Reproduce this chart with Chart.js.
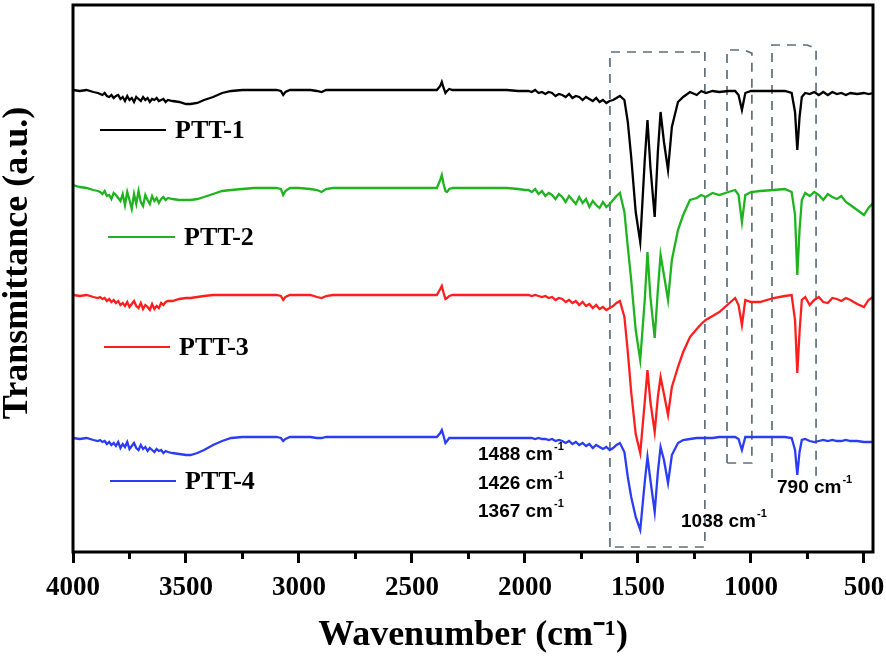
<!DOCTYPE html>
<html>
<head>
<meta charset="utf-8">
<title>FTIR spectra PTT-1 to PTT-4</title>
<script src="https://cdn.jsdelivr.net/npm/chart.js@4/dist/chart.umd.min.js"></script>
<style>
  html, body { margin: 0; padding: 0; background: #fff; }
</style>
</head>
<body>
<canvas id="ftir-chart" width="886" height="665"></canvas>
<script>
// wavenumber grid shared by all four spectra (cm-1)
var wavenumbers = [
  4000, 3970, 3940, 3910, 3890,
  3880, 3870, 3860, 3850, 3840, 3830, 3820, 3810, 3800, 3790, 3780, 3770, 3760, 3750, 3740, 3730,
  3720, 3710, 3700, 3690, 3680, 3670, 3660, 3650, 3640, 3630, 3620, 3610, 3600, 3590, 3580,
  3560, 3530, 3500, 3480, 3450, 3420, 3380, 3340, 3300,
  3250, 3200, 3150, 3100, 3080, 3070, 3060, 3040, 3000,
  2950, 2920, 2900, 2880, 2850, 2800, 2700, 2600, 2500,
  2420, 2390, 2375, 2368, 2360, 2352, 2345, 2335, 2320,
  2250, 2150, 2080, 2030, 2000,
  1985, 1970, 1955, 1940, 1925, 1910, 1895, 1880, 1865, 1850, 1835, 1820, 1805, 1790,
  1775, 1760, 1745, 1730, 1715, 1700, 1685, 1670, 1655, 1640, 1625, 1610, 1595, 1580,
  1560, 1545, 1530, 1510, 1490, 1470, 1458, 1445, 1426, 1412,
  1400, 1385, 1367, 1350, 1323, 1300, 1270, 1240, 1220, 1200,
  1170, 1140, 1100, 1070, 1055, 1040, 1025, 1000, 960, 900,
  850, 820, 805, 795, 785, 775, 760, 740, 720, 700,
  680, 660, 640, 620, 600, 580, 560, 530, 500, 480, 460
];

// transmittance (a.u., curves stacked with offsets)
var ptt1 = [
  462, 461, 462, 460, 459,
  458, 457, 459, 456, 455, 457, 454, 456, 457, 453, 455, 451, 456, 452, 454, 450,
  455, 453, 451, 455, 452, 454, 450, 453, 452, 454, 451, 452, 453, 450, 452,
  451, 450, 448, 448, 449, 452, 455, 459, 461,
  462, 462, 462, 462, 461, 457, 460, 462, 462,
  462, 461, 460, 462, 462, 462, 462, 462, 462,
  462, 462, 466, 470, 464, 459, 461, 463, 462,
  462, 462, 462, 461, 461,
  461, 460, 462, 459, 460, 458, 460, 459, 456, 458, 457, 455, 458, 454,
  456, 455, 452, 455, 453, 451, 454, 450, 452, 449, 451, 452, 454, 456,
  452, 430, 395, 340, 310, 392, 432, 385, 335, 400,
  440, 410, 382, 425, 450, 455, 460, 457, 461, 459,
  461, 460, 461, 461, 457, 442, 459, 461, 461, 461,
  461, 459, 440, 402, 435, 455, 459, 458, 460, 457,
  460, 457, 460, 458, 459, 457, 459, 458, 459, 458, 459
];
var ptt2 = [
  367, 365, 364, 362, 361,
  360, 358, 361, 356, 357, 353, 359, 357, 354, 351, 358, 347, 360, 352, 343, 358,
  348, 361, 350, 346, 357, 352, 348, 356, 351, 354, 349, 353, 355, 352, 354,
  353, 352, 352, 352, 353, 355, 358, 361, 362,
  363, 364, 364, 364, 363, 357, 361, 364, 364,
  363, 362, 360, 363, 364, 364, 364, 364, 364,
  364, 364, 372, 377, 368, 361, 360, 363, 364,
  364, 364, 364, 363, 362,
  362, 360, 363, 358, 361, 356, 359, 357, 353, 358, 355, 350, 356, 352,
  348, 355, 349, 353, 345, 351, 347, 344, 350, 345, 348, 352, 356, 359,
  340, 305, 272, 222, 192, 252, 300, 255, 214, 262,
  297, 277, 252, 292, 322, 337, 352, 354, 357, 355,
  359, 357, 360, 362, 357, 330, 357, 360, 361, 362,
  363, 360, 337, 277, 322, 352, 359, 356, 360, 357,
  352, 358, 355, 353, 356, 350, 347, 342, 337, 344, 349
];
var ptt3 = [
  257, 256, 257, 255, 254,
  255, 253, 254, 251, 253, 250, 252, 249, 251, 247, 249, 246, 250, 245, 248, 251,
  246, 244, 249, 243, 247, 245, 242, 248, 243, 246, 244, 249, 247, 250, 251,
  251, 253, 254, 254, 255, 256, 257, 257, 257,
  257, 257, 257, 257, 256, 252, 255, 257, 257,
  257, 255, 254, 256, 257, 257, 257, 257, 257,
  257, 257, 263, 266, 259, 253, 254, 256, 257,
  257, 257, 257, 257, 257,
  257, 256, 257, 256, 255, 256, 254, 255, 252, 254, 253, 250, 252, 249,
  251, 247, 250, 246, 248, 244, 247, 243, 245, 242, 244, 246, 249, 251,
  235, 200, 160, 118, 99, 150, 182, 150, 120, 155,
  175, 158, 137, 165, 185, 200, 215, 223, 228, 232,
  236, 240, 248, 254, 247, 227, 252, 250, 250, 254,
  256, 257, 232, 179, 220, 252, 255, 247, 252, 255,
  250, 249, 254, 253, 251, 254, 252, 248, 245, 252, 255
];
var ptt4 = [
  114, 113, 114, 112, 111,
  112, 110, 111, 108, 110, 107, 109, 106, 110, 104, 108, 105, 110, 103, 106, 109,
  104, 102, 107, 103, 105, 101, 104, 102, 100, 103, 101, 102, 99, 101, 100,
  99, 98, 97, 97, 99, 102, 107, 111, 114,
  115, 115, 115, 115, 114, 111, 113, 115, 115,
  115, 114, 114, 115, 115, 115, 115, 115, 115,
  115, 115, 119, 122, 116, 109, 111, 114, 114,
  114, 114, 114, 114, 114,
  114, 114, 113, 114, 113, 113, 112, 113, 111, 112, 111, 109, 111, 108,
  110, 107, 109, 106, 108, 104, 107, 105, 103, 105, 102, 104, 107, 109,
  100, 75, 55, 35, 22, 70, 95, 72, 40, 80,
  105, 92, 69, 97, 109, 112, 113, 114, 114, 114,
  114, 115, 115, 115, 113, 102, 115, 115, 115, 115,
  115, 114, 102, 77, 100, 112, 113, 111, 110, 111,
  112, 111, 112, 111, 111, 112, 111, 111, 110, 110, 110
];

var seriesNames = ["PTT-1", "PTT-2", "PTT-3", "PTT-4"];
var seriesValues = [ptt1, ptt2, ptt3, ptt4];
var seriesColors = ["#000000", "#1fb41f", "#ff1e1e", "#2b3cf5"];

var tickValues = [4000, 3500, 3000, 2500, 2000, 1500, 1000, 500];
var minorTickValues = [3750, 3250, 2750, 2250, 1750, 1250, 750];
var peakLabels = ["1488", "1426", "1367", "1038", "790"];
var yTitle = "Transmittance (a.u.)";

var SERIF = "'Liberation Serif', 'Times New Roman', serif";
var SANS = "'Liberation Sans', Arial, sans-serif";
Chart.defaults.font.family = SERIF;
Chart.defaults.color = "#000";

// legend entries sit next to each trace
var legendSpots = [
  { x1: 100, x2: 166, y: 130 },
  { x1: 108, x2: 175, y: 237 },
  { x1: 104, x2: 170, y: 347 },
  { x1: 110, x2: 176, y: 481 }
];
// peak label spots
var peakSpots = [
  { x: 478, y: 455 }, { x: 478, y: 484 }, { x: 478, y: 512 },
  { x: 681, y: 522 }, { x: 777, y: 488 }
];
// dashed boxes around the bands (wavenumber span, y span in a.u.)
var boxes = [
  { from: 1624, to: 1204, top: 500, bottom: 5, closed: true, cut: 0 },
  { from: 1106, to: 996, top: 502, bottom: 89, closed: true, cut: 8 },
  { from: 907, to: 712, top: 507, bottom: 74, closed: false, cut: 9 }
];

function supText(ctx, x, y, base, sup, size) {
  ctx.font = "bold " + size + "px " + SANS;
  ctx.textBaseline = "middle";
  ctx.textAlign = "left";
  ctx.fillText(base, x, y);
  var w = ctx.measureText(base).width;
  ctx.font = "bold " + Math.round(size * 0.6) + "px " + SANS;
  ctx.fillText(sup, x + w + 1, y - size * 0.42);
}

var decorPlugin = {
  id: "decor",
  beforeDatasetsDraw: function (chart) {
    var ctx = chart.ctx, xs = chart.scales.x, ys = chart.scales.y;
    ctx.save();
    ctx.strokeStyle = "#5f6f7b";
    ctx.lineWidth = 1.7;
    ctx.setLineDash([9, 7]);
    boxes.forEach(function (b) {
      var l = xs.getPixelForValue(b.from), r = xs.getPixelForValue(b.to);
      var t = ys.getPixelForValue(b.top), bt = ys.getPixelForValue(b.bottom);
      ctx.beginPath();
      ctx.moveTo(l, bt);
      ctx.lineTo(l, t);
      ctx.lineTo(r - b.cut, t);
      ctx.lineTo(r, t + b.cut * 0.4);
      ctx.lineTo(r, bt);
      if (b.closed) ctx.lineTo(l, bt);
      ctx.stroke();
    });
    ctx.restore();
  },
  afterDraw: function (chart) {
    var ctx = chart.ctx, a = chart.chartArea, xs = chart.scales.x;
    ctx.save();
    // frame
    ctx.strokeStyle = "#000";
    ctx.lineWidth = 3;
    ctx.strokeRect(a.left, a.top, a.right - a.left, a.bottom - a.top);
    // minor ticks
    minorTickValues.forEach(function (v) {
      var px = xs.getPixelForValue(v);
      ctx.beginPath();
      ctx.moveTo(px, a.bottom);
      ctx.lineTo(px, a.bottom + 7);
      ctx.stroke();
    });
    // y title, sits a little above the middle of the axis
    ctx.save();
    ctx.translate(18, 263);
    ctx.rotate(-Math.PI / 2);
    ctx.fillStyle = "#000";
    ctx.font = "bold 36px " + SERIF;
    ctx.textAlign = "center";
    ctx.textBaseline = "middle";
    ctx.fillText(yTitle, 0, 0);
    ctx.restore();
    // legend
    chart.data.datasets.forEach(function (ds, i) {
      var s = legendSpots[i];
      ctx.strokeStyle = ds.borderColor;
      ctx.lineWidth = 2;
      ctx.beginPath();
      ctx.moveTo(s.x1, s.y);
      ctx.lineTo(s.x2, s.y);
      ctx.stroke();
      ctx.fillStyle = "#000";
      ctx.font = "bold 26px " + SERIF;
      ctx.textBaseline = "middle";
      ctx.textAlign = "left";
      ctx.fillText(ds.label, s.x2 + 9, s.y + 1);
    });
    // peak labels
    ctx.fillStyle = "#000";
    peakLabels.forEach(function (p, i) {
      supText(ctx, peakSpots[i].x, peakSpots[i].y, p + " cm", "-1", 19);
    });
    ctx.restore();
  }
};

new Chart(document.getElementById("ftir-chart"), {
  type: "line",
  data: {
    datasets: seriesNames.map(function (name, i) {
      return {
        label: name,
        data: wavenumbers.map(function (w, j) { return { x: w, y: seriesValues[i][j] }; }),
        borderColor: seriesColors[i],
        borderWidth: 2.3,
        pointRadius: 0,
        tension: 0,
        fill: false
      };
    })
  },
  options: {
    responsive: false,
    animation: false,
    devicePixelRatio: 1,
    layout: { padding: { left: 0, right: 13, top: 5, bottom: 0 } },
    plugins: { legend: { display: false }, tooltip: { enabled: false } },
    scales: {
      x: {
        type: "linear",
        reverse: true,
        min: 460,
        max: 4000,
        afterBuildTicks: function (s) {
          s.ticks = tickValues.map(function (v) { return { value: v }; });
        },
        afterFit: function (s) {
          s.paddingLeft = 0;
          s.paddingRight = 0;
          s.height = 113;
        },
        ticks: {
          autoSkip: false,
          maxRotation: 0,
          padding: 12,
          color: "#000",
          font: { size: 27, weight: "bold", lineHeight: 1 },
          callback: function (v) { return String(v); }
        },
        grid: { display: true, drawOnChartArea: false, drawTicks: true, tickLength: 11, tickWidth: 3, tickColor: "#000" },
        border: { display: false },
        title: {
          display: true,
          text: "Wavenumber (cm\u207B\u00B9)",
          color: "#000",
          font: { size: 36, weight: "bold", lineHeight: 1 },
          padding: { top: 12, bottom: 11 }
        }
      },
      y: {
        min: 0,
        max: 547,
        ticks: { display: false },
        grid: { display: false, drawTicks: false },
        border: { display: false },
        title: { display: false },
        afterFit: function (s) {
          s.paddingTop = 0;
          s.paddingBottom = 0;
          s.width = 73;
        }
      }
    }
  },
  plugins: [decorPlugin]
});
</script>
</body>
</html>
